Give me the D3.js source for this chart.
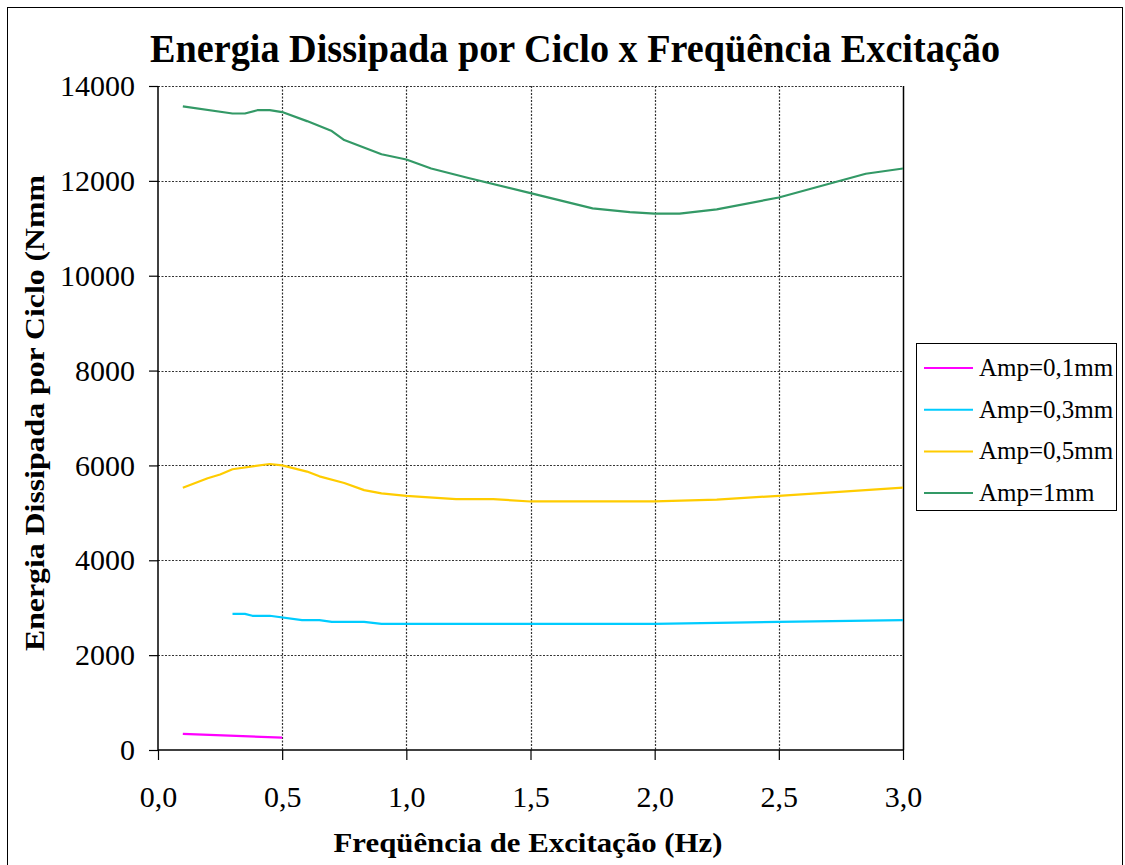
<!DOCTYPE html>
<html>
<head>
<meta charset="utf-8">
<script src="https://cdn.jsdelivr.net/npm/d3@7"></script>
<style>
  html, body { margin: 0; padding: 0; background: #fff; }
  svg { display: block; }
  text { font-family: "Liberation Serif", "Times New Roman", serif; fill: #000; }
</style>
</head>
<body>
<svg id="chart" width="1125" height="865"></svg>
<script>
// Energy dissipated per cycle (N·mm) against excitation frequency (Hz)
const seriesNames = ["Amp=0,1mm", "Amp=0,3mm", "Amp=0,5mm", "Amp=1mm"];
const seriesColors = ["#ff00ff", "#00ccff", "#ffcc00", "#339966"];

const freqAmp01 = [0.1, 0.5];
const energyAmp01 = [340, 260];

const freqAmp03 = [0.3, 0.35, 0.38, 0.45, 0.58, 0.65, 0.7, 0.83, 0.9, 2.0, 2.5, 3.0];
const energyAmp03 = [2870, 2870, 2830, 2830, 2740, 2740, 2700, 2700, 2660, 2660, 2700, 2740];

const freqAmp05 = [0.1, 0.2, 0.25, 0.3, 0.45, 0.5, 0.6, 0.65, 0.75, 0.83, 0.9, 1.0, 1.2, 1.35, 1.5, 2.0, 2.25, 2.5, 3.0];
const energyAmp05 = [5530, 5730, 5810, 5920, 6030, 6000, 5870, 5770, 5630, 5480, 5410, 5360, 5290, 5290, 5240, 5240, 5280, 5360, 5530];

const freqAmp1 = [0.1, 0.3, 0.35, 0.4, 0.45, 0.5, 0.6, 0.7, 0.75, 0.9, 1.0, 1.1, 1.25, 1.5, 1.75, 1.9, 2.0, 2.1, 2.25, 2.5, 2.85, 3.0];
const energyAmp1 = [13570, 13420, 13420, 13490, 13490, 13450, 13260, 13050, 12860, 12560, 12450, 12260, 12060, 11740, 11420, 11340, 11310, 11310, 11400, 11650, 12150, 12260];

const xTicks = [0, 0.5, 1.0, 1.5, 2.0, 2.5, 3.0];
const yTicks = [0, 2000, 4000, 6000, 8000, 10000, 12000, 14000];

const titleText = "Energia Dissipada por Ciclo x Freqüência Excitação";
const xTitle = "Freqüência de Excitação (Hz)";
const yTitle = "Energia Dissipada por Ciclo (Nmm";

const series = [
  { name: seriesNames[0], color: seriesColors[0], x: freqAmp01, y: energyAmp01 },
  { name: seriesNames[1], color: seriesColors[1], x: freqAmp03, y: energyAmp03 },
  { name: seriesNames[2], color: seriesColors[2], x: freqAmp05, y: energyAmp05 },
  { name: seriesNames[3], color: seriesColors[3], x: freqAmp1, y: energyAmp1 }
];

const svg = d3.select("#chart");
const plot = { left: 158, right: 903, top: 86, bottom: 750 };

const x = d3.scaleLinear().domain([0, 3]).range([plot.left, plot.right]);
const y = d3.scaleLinear().domain([0, 14000]).range([plot.bottom, plot.top]);

// outer chart frame
svg.append("rect")
  .attr("x", 7.5).attr("y", 7.5).attr("width", 1115).attr("height", 900)
  .attr("fill", "none").attr("stroke", "#000").attr("stroke-width", 1);

// title
svg.append("text")
  .attr("x", 575).attr("y", 62)
  .attr("text-anchor", "middle")
  .attr("font-size", 40).attr("font-weight", "bold")
  .attr("textLength", 850).attr("lengthAdjust", "spacingAndGlyphs")
  .text(titleText);

// gridlines
const grid = svg.append("g").attr("stroke", "#333").attr("stroke-width", 1.2)
  .attr("stroke-dasharray", "2,1.5");
grid.selectAll("line.h").data(yTicks.filter(d => d > 0)).join("line")
  .attr("x1", plot.left).attr("x2", plot.right)
  .attr("y1", d => Math.round(y(d)) + 0.5).attr("y2", d => Math.round(y(d)) + 0.5);
grid.selectAll("line.v").data(xTicks.filter(d => d > 0 && d < 3)).join("line")
  .attr("y1", plot.top).attr("y2", plot.bottom)
  .attr("x1", d => Math.round(x(d)) + 0.5).attr("x2", d => Math.round(x(d)) + 0.5);

// right border of plot area
svg.append("line")
  .attr("x1", plot.right + 0.5).attr("x2", plot.right + 0.5)
  .attr("y1", plot.top).attr("y2", plot.bottom)
  .attr("stroke", "#000").attr("stroke-width", 1.5);

// axes
const fmtX = d => d3.format(".1f")(d).replace(".", ",");
const xAxis = d3.axisBottom(x).tickValues(xTicks).tickSize(10).tickPadding(26).tickFormat(fmtX);
const yAxis = d3.axisLeft(y).tickValues(yTicks).tickSize(9).tickPadding(14).tickFormat(d3.format("d"));

const gx = svg.append("g").attr("transform", `translate(0,${plot.bottom})`).call(xAxis);
const gy = svg.append("g").attr("transform", `translate(${plot.left},0)`).call(yAxis);
[gx, gy].forEach(g => {
  g.select(".domain").attr("stroke", "#000").attr("stroke-width", 1.5);
  g.selectAll(".tick line").attr("stroke", "#000").attr("stroke-width", 1.2);
  g.selectAll(".tick text")
    .attr("font-family", "Liberation Serif, Times New Roman, serif")
    .attr("font-size", 30).attr("fill", "#000");
});
gx.select(".domain").attr("d", `M${plot.left},0H${plot.right}`);
gy.select(".domain").attr("d", `M0,${plot.bottom}V${plot.top}`);

// axis titles
svg.append("text")
  .attr("x", 528).attr("y", 852)
  .attr("text-anchor", "middle")
  .attr("font-size", 28).attr("font-weight", "bold")
  .attr("textLength", 389).attr("lengthAdjust", "spacingAndGlyphs")
  .text(xTitle);

svg.append("text")
  .attr("transform", "translate(44,413) rotate(-90)")
  .attr("text-anchor", "middle")
  .attr("font-size", 28).attr("font-weight", "bold")
  .attr("textLength", 476).attr("lengthAdjust", "spacingAndGlyphs")
  .text(yTitle);

// data lines
const line = d3.line().x(d => x(d[0])).y(d => y(d[1]));
svg.append("g").selectAll("path").data(series).join("path")
  .attr("d", s => line(s.x.map((f, i) => [f, s.y[i]])))
  .attr("fill", "none")
  .attr("stroke", s => s.color)
  .attr("stroke-width", 2.2)
  .attr("stroke-linejoin", "round");

// legend
const legend = svg.append("g").attr("transform", "translate(916,343)");
legend.append("rect")
  .attr("x", 0.5).attr("y", 0.5).attr("width", 200).attr("height", 167)
  .attr("fill", "#fff").attr("stroke", "#000").attr("stroke-width", 1);
const rows = legend.selectAll("g.row").data(series).join("g")
  .attr("transform", (d, i) => `translate(0,${25 + i * 41.7})`);
rows.append("line")
  .attr("x1", 8).attr("x2", 57).attr("y1", 0).attr("y2", 0)
  .attr("stroke", d => d.color).attr("stroke-width", 2);
rows.append("text")
  .attr("x", 63).attr("y", 8)
  .attr("font-size", 25)
  .text(d => d.name);
</script>
</body>
</html>
